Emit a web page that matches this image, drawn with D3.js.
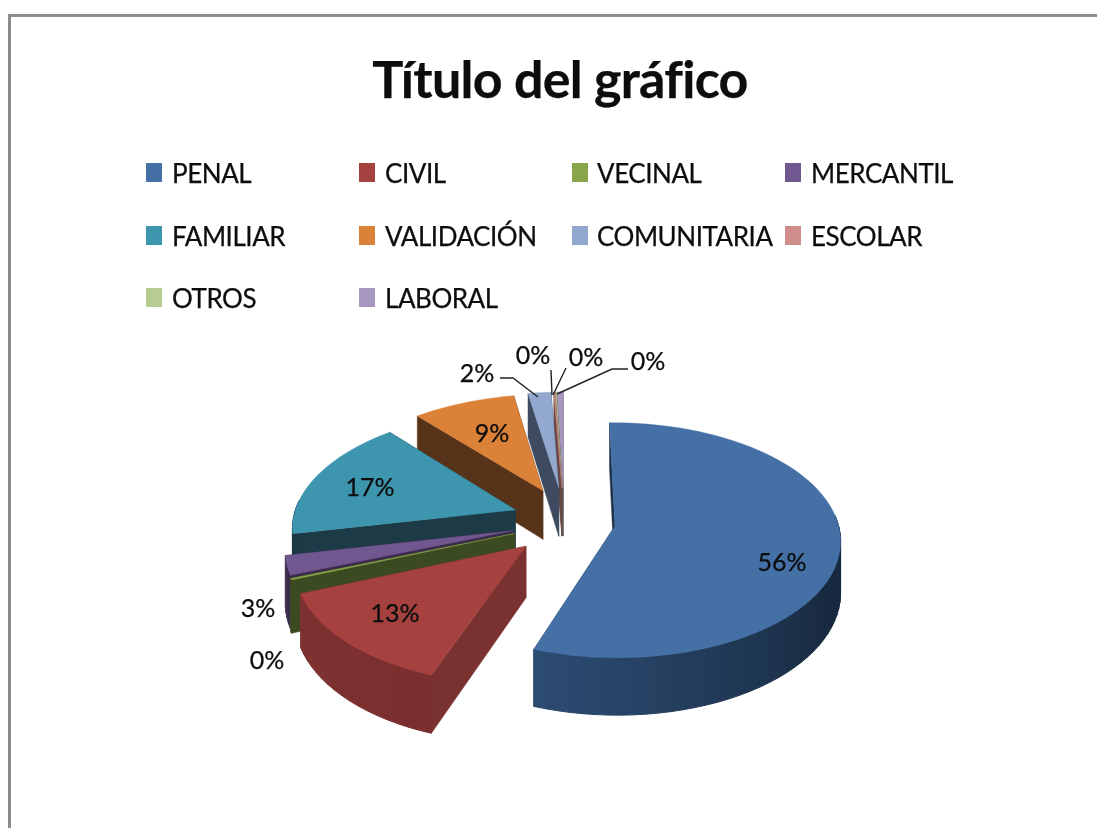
<!DOCTYPE html>
<html><head><meta charset="utf-8">
<script src="https://cdn.jsdelivr.net/npm/d3@7"></script>
<style>html,body{margin:0;padding:0;background:#fff}svg{display:block;filter:blur(0.65px)}text{font-family:Lato,sans-serif;fill:#0d0d0d;stroke:#0d0d0d;stroke-width:0.25px}</style>
</head><body><svg id="c" width="1097" height="828"></svg>
<script>
const categories=["PENAL","CIVIL","VECINAL","MERCANTIL","FAMILIAR","VALIDACIÓN","COMUNITARIA","ESCOLAR","OTROS","LABORAL"];
const values=[55.6,13.49,0.2,2.6,16.95,8.5,1.9,0.1,0.1,0.49];
const percentLabels=["56%","13%","0%","3%","17%","9%","2%","0%","0%","0%"];
const topColors=["#4470a6","#a5423f","#8aa64a","#71578f","#3e95ae","#dc8138","#92a8cf","#ce8d8b","#b7cc91","#a597bf"];
const faceColors=["#1c3048","#7a3230","#3c4a22","#3a2d4b","#1c3b47","#57331a","#3d4a60","#6a4645","#5c6848","#524b60"];
const wallLight=["#2f5079","#7e3231","#4a5a28","#4d3b63","#1c3b47","#57331a","#3d4a60","#8a5c5b","#7b8a60","#6e6480"];
const wallDark=["#182a40","#7a2f2e","#3c4a22","#3a2d4b","#1c3b47","#57331a","#3d4a60","#6a4645","#5c6848","#524b60"];
const legendColumns=[[146,172],[359,385],[572,597],[785,811]];
const legendRows=[173,236,298];
const labelAnchors=[[782,562],[395,613],[267,660],[258,608],[370,487],[492,433],[477,373],[533,355],[586,357],[648,361]];
const leaders=[[[500,378],[513,378],[538,397]],[[551,370],[552,395]],[[566,368],[553,395]],[[628,369],[612,369],[557,394]]];

const svg=d3.select("#c");
svg.append("path").attr("d","M1097,15.5H9.5V828").attr("fill","none").attr("stroke","#8c8c8c").attr("stroke-width",3);
svg.append("text").attr("x",560).attr("y",98).attr("text-anchor","middle").attr("font-size",52).attr("letter-spacing",-0.7).attr("font-weight",700).text("Título del gráfico");

categories.forEach((c,i)=>{
  const col=legendColumns[i%4],row=legendRows[Math.floor(i/4)];
  svg.append("rect").attr("x",col[0]).attr("y",row-10).attr("width",16).attr("height",19).attr("fill",topColors[i]);
  svg.append("text").attr("x",col[1]).attr("y",row+10).attr("font-size",26).attr("letter-spacing",-0.45).text(c);
});

const k=0.12,sx=224,ry=116,px=597,cy=527,depth=55,cx0=-0.15,cv0=-0.055,ex=0.233,ev=0.3;
const proj=(X,V,down)=>{const s=1/(1-k*V);return [px+sx*X*s, cy+ry*V*s+(down?depth*(s*0.92):0)];};
const line=d3.line();
const arcs=d3.pie().sort(null).value(d=>d).startAngle(-Math.PI/180).endAngle(2*Math.PI-Math.PI/180)(values);
const slices=arcs.map((a,i)=>{
  const m=(a.startAngle+a.endAngle)/2;
  return {i,a,m,cx:cx0+ex*Math.sin(m),cv:cv0-ev*Math.cos(m),order:-Math.cos(m)};
}).sort((p,q)=>p.order-q.order);
const pie=svg.append("g");
slices.forEach(s=>{
  const at=(th,r=1)=>[s.cx+r*Math.sin(th),s.cv-r*Math.cos(th)];
  const n=Math.max(2,Math.ceil((s.a.endAngle-s.a.startAngle)/0.05));
  const ths=d3.range(n+1).map(j=>s.a.startAngle+(s.a.endAngle-s.a.startAngle)*j/n);
  const g=pie.append("g");
  [s.a.endAngle,s.a.startAngle].forEach(th=>{
    const p=at(th),c=[s.cx,s.cv];
    g.append("path").attr("d",line([proj(...c),proj(...p),proj(...p,true),proj(...c,true)])+"Z").attr("fill",faceColors[s.i]).attr("stroke",faceColors[s.i]).attr("stroke-width",0.5);
  });
  const col=d3.interpolateRgb(wallDark[s.i],wallLight[s.i]);
  const segs=ths.slice(0,-1).map((t,j)=>[t,ths[j+1]]).reverse().filter(([t0,t1])=>Math.cos((t0+t1)/2)<0.1);
  segs.forEach(([t0,t1])=>{
    const a=at(t0),b=at(t1);
    const f=Math.max(0,Math.min(1,(Math.PI*1.15-Math.min(t0,Math.PI*1.15))/(Math.PI*0.5)));
    const c=s.i===0?col(1-f):col((t0-s.a.startAngle)/(s.a.endAngle-s.a.startAngle+1e-6));
    g.append("path").attr("d",line([proj(...a),proj(...b),proj(...b,true),proj(...a,true)])+"Z").attr("fill",c).attr("stroke",c).attr("stroke-width",1);
  });
  const pts=[proj(s.cx,s.cv)].concat(ths.map(t=>proj(...at(t))));
  g.append("path").attr("d",line(pts)+"Z").attr("fill",topColors[s.i]).attr("stroke",topColors[s.i]).attr("stroke-width",0.4);
});

leaders.forEach(l=>svg.append("path").attr("d",line(l)).attr("fill","none").attr("stroke","#222").attr("stroke-width",1.4));
percentLabels.forEach((t,i)=>{
  svg.append("text").attr("x",labelAnchors[i][0]).attr("y",labelAnchors[i][1]+9).attr("text-anchor","middle").attr("font-size",25).text(t);
});
</script></body></html>
